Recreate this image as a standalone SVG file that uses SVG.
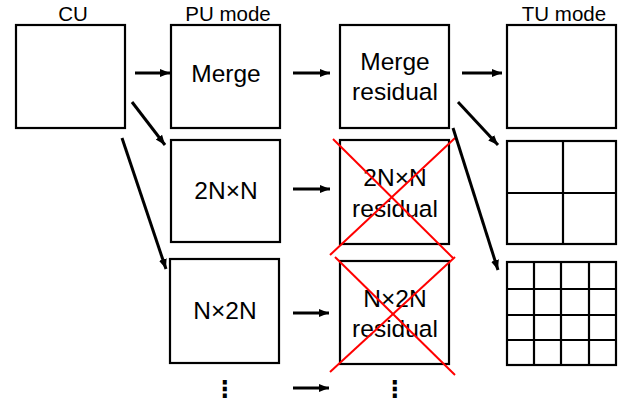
<svg xmlns="http://www.w3.org/2000/svg" width="628" height="402" viewBox="0 0 628 402">
<style>
.box{fill:#fff;stroke:#000;stroke-width:2.2}
.grid{stroke:#000;stroke-width:2.2;fill:none}
.hdr{font-family:"Liberation Sans",Arial,sans-serif;font-size:20.5px;fill:#000;text-anchor:middle}
.lbl{font-family:"Liberation Sans",Arial,sans-serif;font-size:24.5px;fill:#000;text-anchor:middle}
.dots{font-family:"DejaVu Sans",sans-serif;font-size:23px;font-weight:bold;fill:#000;text-anchor:middle}
.arr{stroke:#000;stroke-width:3;fill:none;marker-end:url(#ah)}
.x{stroke:#ff0000;stroke-width:2;fill:none}
</style>
<defs>
<marker id="ah" markerUnits="userSpaceOnUse" markerWidth="10" markerHeight="10" viewBox="0 0 10 10" refX="10" refY="5" orient="auto">
<path d="M0,1 L10,5 L0,9 Z" fill="#000"/>
</marker>
</defs>
<g id="headers">
<text class="hdr" x="73" y="21">CU</text>
<text class="hdr" x="228" y="21">PU mode</text>
<text class="hdr" x="564" y="21">TU mode</text>
</g>
<g id="cu"><rect class="box" x="16" y="25" width="109" height="103"/></g>
<g id="pu-merge"><rect class="box" x="171" y="25" width="109" height="103"/><text class="lbl" x="226" y="82">Merge</text></g>
<g id="pu-2nxn"><rect class="box" x="171" y="140" width="109" height="102"/><text class="lbl" x="226" y="199">2N×N</text></g>
<g id="pu-nx2n"><rect class="box" x="170" y="259" width="109" height="104"/><text class="lbl" x="225" y="319">N×2N</text></g>
<g id="pu-more"><text class="dots" x="225" y="397">⋮</text></g>
<g id="res-merge"><rect class="box" x="340" y="25" width="109" height="103"/><text class="lbl" x="395" y="70">Merge</text><text class="lbl" x="395" y="100">residual</text></g>
<g id="res-2nxn"><rect class="box" x="340" y="140" width="109" height="104"/><text class="lbl" x="395" y="186">2N×N</text><text class="lbl" x="395" y="217">residual</text><line class="x" x1="333" y1="139" x2="453" y2="258"/><line class="x" x1="455" y1="138" x2="330" y2="255"/></g>
<g id="res-nx2n"><rect class="box" x="340" y="261" width="109" height="103"/><text class="lbl" x="395" y="307">N×2N</text><text class="lbl" x="395" y="337">residual</text><line class="x" x1="335" y1="257" x2="455" y2="375"/><line class="x" x1="455" y1="257" x2="330" y2="372"/></g>
<g id="res-more"><text class="dots" x="395" y="397">⋮</text></g>
<g id="tu-1"><rect class="box" x="507" y="25" width="109" height="103"/></g>
<g id="tu-4"><rect class="box" x="507" y="141" width="109" height="103"/><path class="grid" d="M563,141 V244 M507,193 H616"/></g>
<g id="tu-16"><rect class="box" x="507" y="262" width="109" height="103"/><path class="grid" d="M534,262 V365 M561,262 V365 M589,262 V365 M507,289 H616 M507,315 H616 M507,340 H616"/></g>
<g id="connectors">
<line class="arr" x1="135" y1="73" x2="170" y2="73"/>
<line class="arr" x1="132" y1="102" x2="165" y2="145"/>
<line class="arr" x1="122" y1="138" x2="166" y2="269"/>
<line class="arr" x1="293" y1="73" x2="330" y2="73"/>
<line class="arr" x1="293" y1="189" x2="330" y2="189"/>
<line class="arr" x1="293" y1="313" x2="329" y2="313"/>
<line class="arr" x1="293" y1="388" x2="329" y2="388"/>
<line class="arr" x1="462" y1="73" x2="502" y2="73"/>
<line class="arr" x1="458" y1="102" x2="498" y2="145"/>
<line class="arr" x1="453" y1="128" x2="498" y2="270"/>
</g>
</svg>
